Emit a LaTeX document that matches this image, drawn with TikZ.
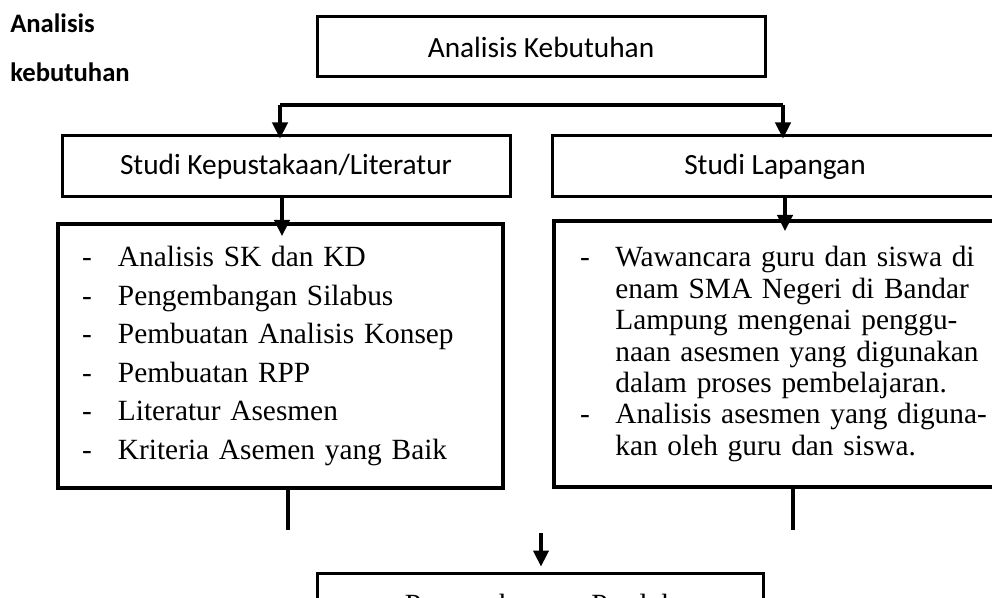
\documentclass[tikz,border=0pt]{standalone}
\usepackage{fontspec}
\setmainfont{Liberation Serif}
\newfontfamily\calibri{Carlito}
\usetikzlibrary{arrows.meta}

\begin{document}
\begin{tikzpicture}[x=0.75pt,y=-0.75pt,
    box/.style={draw=black,line width=2.25pt,inner sep=0pt,font=\calibri\fontsize{22}{26}\selectfont},
    listbox/.style={draw=black,line width=3pt,inner ysep=0pt,align=left},
    conn/.style={line width=2.4pt},
    arr/.style={conn,-{Triangle[width=11.5pt,length=12pt]}}]
            \useasboundingbox (0,0) rectangle (992,598);
            \clip (0,0) rectangle (992,598);
            \tikzstyle{every node}+=[text=black]
            \node [anchor=base west,inner sep=0pt,font=\calibri\bfseries\fontsize{20}{24}\selectfont] (judulA) at (10,33) {Analisis};
            \node [anchor=base west,inner sep=0pt,font=\calibri\bfseries\fontsize{20}{24}\selectfont] (judulB) at (10,82) {kebutuhan};
            \node [box,minimum width=336pt,minimum height=45pt] (kebutuhan) at (541,47) {Analisis Kebutuhan};
            \node [box,minimum width=336pt,minimum height=45.75pt] (pustaka) at (286,166.5) {Studi Kepustakaan/Literatur};
            \node [box,minimum width=334.5pt,minimum height=45.75pt] (lapangan) at (775,166.5) {Studi Lapangan};
            \node [listbox,text width=297.75pt,inner xsep=18pt,minimum height=198pt,font=\fontsize{22}{28.9}\selectfont] (isipustaka) at (280.5,356)
                {\makebox[27pt][l]{-}Analisis SK dan KD\\
                 \makebox[27pt][l]{-}Pengembangan Silabus\\
                 \makebox[27pt][l]{-}Pembuatan Analisis Konsep\\
                 \makebox[27pt][l]{-}Pembuatan RPP\\
                 \makebox[27pt][l]{-}Literatur Asesmen\\
                 \makebox[27pt][l]{-}Kriteria Asemen yang Baik};
            \node [listbox,text width=294pt,inner xsep=19.5pt,minimum height=199.5pt,font=\fontsize{22}{23.6}\selectfont] (isilapangan) at (776,354)
                {\mbox{\makebox[26.5pt][l]{-}Wawancara guru dan siswa di}\\
                 \mbox{\makebox[26.5pt][l]{}enam SMA Negeri di Bandar}\\
                 \mbox{\makebox[26.5pt][l]{}Lampung mengenai penggu-}\\
                 \mbox{\makebox[26.5pt][l]{}naan asesmen yang digunakan}\\
                 \mbox{\makebox[26.5pt][l]{}dalam proses pembelajaran.}\\
                 \mbox{\makebox[26.5pt][l]{-}Analisis asesmen yang diguna-}\\
                 \mbox{\makebox[26.5pt][l]{}kan oleh guru dan siswa.}};
            \node [box,minimum width=335pt,minimum height=51pt,font=\fontsize{22}{26}\selectfont] (produk) at (540.5,607) {Pengembangan Produk};
            \coordinate (cabangkiri) at (280,105);
            \coordinate (cabangkanan) at (783,105);
            \coordinate (turunkiri) at (282,0);
            \coordinate (turunkanan) at (785,0);
            \coordinate (ujungkiri) at (288,530);
            \coordinate (ujungkanan) at (793,530);
            \coordinate (pangkal) at (541,533);
            \draw [conn] (cabangkiri) -- (cabangkanan);
            \draw [arr,shorten >=-3pt] (cabangkiri) -- (cabangkiri |- pustaka.north);
            \draw [arr,shorten >=-3pt] (cabangkanan) -- (cabangkanan |- lapangan.north);
            \draw [arr,shorten >=-10.5pt] (pustaka.south -| turunkiri) -- (isipustaka.north -| turunkiri);
            \draw [arr,shorten >=-9pt] (lapangan.south -| turunkanan) -- (isilapangan.north -| turunkanan);
            \draw [conn] (isipustaka.south -| ujungkiri) -- (ujungkiri);
            \draw [conn] (isilapangan.south -| ujungkanan) -- (ujungkanan);
            \draw [arr,shorten >=3.75pt] (pangkal) -- (pangkal |- produk.north);
\end{tikzpicture}
\end{document}
